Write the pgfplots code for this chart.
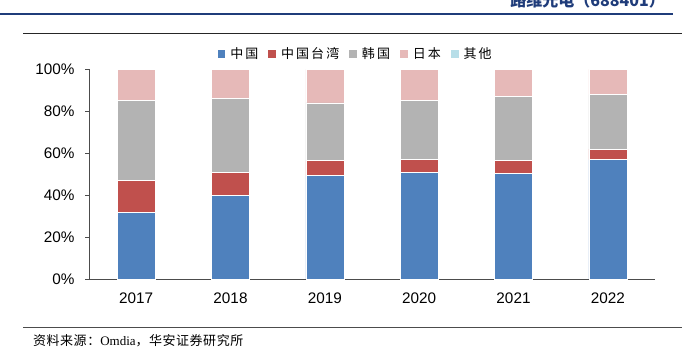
\documentclass[border=0pt]{standalone}
\usepackage{fontspec}
\usepackage{pgfplots}
\pgfplotsset{compat=1.18}
\usepackage{pgfplotstable}
\setmainfont{Liberation Sans}
\newfontfamily\cjk{Noto Sans CJK SC}
\newfontfamily\cjkleg[LetterSpace=16]{Noto Sans CJK SC}
\newfontfamily\cjksrc[LetterSpace=4]{Noto Sans CJK SC}
\newfontfamily\serifl{Liberation Serif}
\definecolor{cCN}{RGB}{79,129,189}
\definecolor{cTW}{RGB}{192,80,77}
\definecolor{cKR}{RGB}{179,179,179}
\definecolor{cJP}{RGB}{230,185,184}
\definecolor{cOT}{RGB}{183,222,232}
\definecolor{hdr}{RGB}{31,60,122}
\pgfplotstableread{
x cn tw kr jp ot
0 32   15 38   15 0
1 40   11 35   14 0
2 49.5 7  27.5 16 0
3 51   6  28   15 0
4 50.5 6  30.5 13 0
5 57   5  26   12 0
}\shares
\begin{document}
\begin{tikzpicture}[x=1pt,y=1pt]
\useasboundingbox (0,0) rectangle (690,353);
% header
\draw[hdr, line width=1.5pt] (0,339) -- (673,339);
\node[anchor=base east, inner sep=0pt, text=hdr, font=\cjk\bfseries\fontsize{16}{18}\selectfont] at (665,346.3) {路维光电（688401）};
% frame lines
\draw[black!85, line width=0.8pt] (23,320) -- (682,320);
\draw[black!70, line width=1pt] (23,25.5) -- (682,25.5);
\node[anchor=base west, inner sep=0pt, font=\cjksrc\fontsize{13}{15}\selectfont] at (33,8) {资料来源：{\serifl Omdia}，华安证券研究所};
\begin{axis}[
  at={(89pt,73.7pt)}, anchor=south west,
  scale only axis, width=566pt, height=210pt,
  ybar stacked, bar width=38pt,
  ymin=0, ymax=100, xmin=-0.5, xmax=5.5,
  enlargelimits=false,
  axis lines=left,
  axis line style={-, draw=black!70, line width=0.8pt},
  tick align=outside,
  major tick length=4pt,
  tick style={draw=black!70, line width=0.8pt},
  ytick={0,20,40,60,80,100},
  yticklabel={\pgfmathprintnumber{\tick}\%},
  /pgf/number format/assume math mode=true,
  ticklabel style={font=\fontsize{15.3}{18}\selectfont},
  yticklabel style={xshift=-7pt},
  xtick={0,1,2,3,4,5},
  xticklabels={2017,2018,2019,2020,2021,2022},
  x tick style={draw=none},
  xticklabel style={yshift=-6pt},
  extra x ticks={-0.5,0.5,1.5,2.5,3.5,4.5,5.5},
  extra x tick labels={},
  extra x tick style={major tick length=3pt, tick style={draw=black!70, line width=0.8pt}},
  legend columns=5,
  legend style={draw=none, fill=none, at={(0.471,1.073)}, anchor=center,
    font=\cjkleg\fontsize{13}{15}\selectfont,
    /tikz/every odd column/.append style={column sep=3pt},
    /tikz/every even column/.append style={column sep=8pt}},
  sq/.style={legend image code/.code={\fill[##1, draw=none] (0pt,-3.8pt) rectangle (7.7pt,3.8pt);}},
]
\addplot[fill=cCN, draw=white, line width=0.6pt, sq] table[x=x, y=cn] {\shares};
\addplot[fill=cTW, draw=white, line width=0.6pt, sq] table[x=x, y=tw] {\shares};
\addplot[fill=cKR, draw=white, line width=0.6pt, sq] table[x=x, y=kr] {\shares};
\addplot[fill=cJP, draw=white, line width=0.6pt, sq] table[x=x, y=jp] {\shares};
\addplot[fill=cOT, draw=none, sq] table[x=x, y=ot] {\shares};
\legend{中国,中国台湾,韩国,日本,其他}
\end{axis}
\end{tikzpicture}
\end{document}
